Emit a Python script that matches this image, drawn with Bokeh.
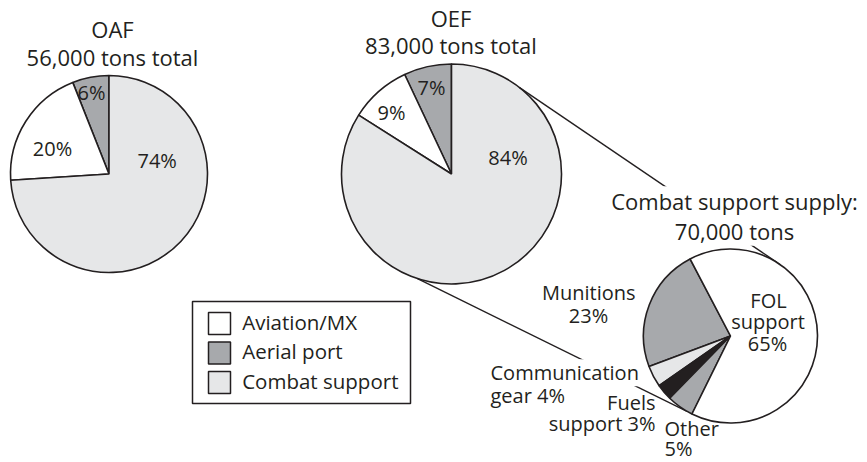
import numpy as np
from bokeh.plotting import figure
from bokeh.models import Range1d, ColumnDataSource, Label
from bokeh.core.properties import value
from bokeh.embed import file_html
from bokeh.resources import INLINE

# ---------------- data ----------------
op_categories = ["Aerial port", "Aviation/MX", "Combat support"]
oaf_share = [6, 20, 74]
oef_share = [7, 9, 84]
oaf_title = ["OAF", "56,000 tons total"]
oef_title = ["OEF", "83,000 tons total"]

support_categories = ["Munitions", "Communication gear", "Fuels support", "Other", "FOL support"]
support_share = [23, 4, 3, 5, 65]
support_title = ["Combat support supply:", "70,000 tons"]

legend_labels = ["Aviation/MX", "Aerial port", "Combat support"]

# ---------------- style ----------------
INK = "#231f20"
FONT = "Open Sans"
op_color = {"Aerial port": "#a7a9ac", "Aviation/MX": "#ffffff", "Combat support": "#e6e7e8"}
support_color = {"Munitions": "#a7a9ac", "Communication gear": "#e6e7e8",
                 "Fuels support": "#231f20", "Other": "#a7a9ac", "FOL support": "#ffffff"}

W, H = 867, 462


def Y(y):
    # layout helper: position measured from the top of the chart
    return H - y


def TY(baseline, size):
    # text anchor so that the glyph baseline lands at the wanted height
    return Y(baseline - 0.42 * size)


p = figure(width=W, height=H, x_range=Range1d(0, W), y_range=Range1d(0, H),
           output_backend="svg", toolbar_location=None, min_border=0)
p.axis.visible = False
p.grid.visible = False
p.outline_line_color = None
p.background_fill_color = "white"
p.border_fill_color = "white"

# pie geometry (layout)
OAF_C, OAF_R = (108.5, Y(173.5)), 98.5
OEF_C, OEF_R = (451, Y(173.5)), 110
SUP_C, SUP_R = (730, Y(335.5)), 87


def pie(center, r, shares, colors, start_deg):
    frac = np.asarray(shares, dtype=float) / np.sum(shares)
    ends = np.cumsum(frac) * 2 * np.pi
    starts = ends - frac * 2 * np.pi
    off = np.radians(start_deg)
    src = ColumnDataSource(dict(start=off + starts, end=off + ends, color=colors))
    p.wedge(x=center[0], y=center[1], radius=r, start_angle="start", end_angle="end",
            fill_color="color", line_color=INK, line_width=1.6, source=src)


pie(OAF_C, OAF_R, oaf_share, [op_color[c] for c in op_categories], 90)
pie(OEF_C, OEF_R, oef_share, [op_color[c] for c in op_categories], 90)


# connector lines from OEF combat-support slice to the breakdown pie
def on_circle(center, r, deg):
    a = np.radians(deg)
    return center[0] + r * np.cos(a), center[1] + r * np.sin(a)


for a1, a2 in [(52, 55), (-108, -120)]:
    x0, y0 = on_circle(OEF_C, OEF_R, a1)
    x1, y1 = on_circle(SUP_C, SUP_R, a2)
    p.line([x0, x1], [y0, y1], line_color=INK, line_width=1.4)

pie(SUP_C, SUP_R, support_share, [support_color[c] for c in support_categories], 117.7)


# ---------------- texts ----------------
def texts(xs, ys, labels, size=20, align="center"):
    p.text(x=xs, y=[TY(v, size) for v in ys], text=labels, text_font=value(FONT),
           text_font_size=f"{size}px", text_align=align, text_baseline="alphabetic",
           text_color=INK)


texts([112, 112], [37.7, 65.5], oaf_title, size=22)
texts([450.5, 450.5], [27, 54], oef_title, size=22)

texts([91, 52, 156.7], [100.5, 156, 168], [f"{v}%" for v in oaf_share])
texts([431, 391, 507.5], [95, 120, 165.7], [f"{v}%" for v in oef_share])

share = dict(zip(support_categories, support_share))
texts([768, 767.5, 767], [308.3, 329.5, 351.7], ["FOL", "support", f"{share['FOL support']}%"])
texts([588.3, 588], [300.7, 323], ["Munitions", f"{share['Munitions']}%"])
texts([655, 655], [410.7, 431.7], ["Fuels", f"support {share['Fuels support']}%"], align="right")
texts([664, 664], [436.5, 456], ["Other", f"{share['Other']}%"], align="left")

p.add_layout(Label(x=490, y=TY(380.7, 20), text="Communication", text_font=FONT,
                   text_font_size="20px", text_color=INK, text_align="left",
                   text_baseline="alphabetic", background_fill_color="white"))
texts([490], [403.3], [f"gear {share['Communication gear']}%"], align="left")

for t, yb in zip(support_title, [210, 239.5]):
    p.add_layout(Label(x=734, y=TY(yb, 22), text=t, text_font=FONT, text_font_size="22px",
                       text_color=INK, text_align="center", text_baseline="alphabetic",
                       background_fill_color="white"))

# ---------------- legend ----------------
p.quad(left=[192], right=[410], top=[Y(301)], bottom=[Y(403)], fill_color=None,
       line_color=INK, line_width=1.5)
leg_y = [323, 352.5, 382]
p.rect(x=[219] * 3, y=[Y(v) for v in leg_y], width=22, height=22,
       fill_color=[op_color[c] for c in legend_labels], line_color=INK, line_width=1.5)
texts([241.7] * 3, [v + 7 for v in leg_y], legend_labels, size=20.5, align="left")

open("out.html", "w").write(file_html(p, INLINE))
